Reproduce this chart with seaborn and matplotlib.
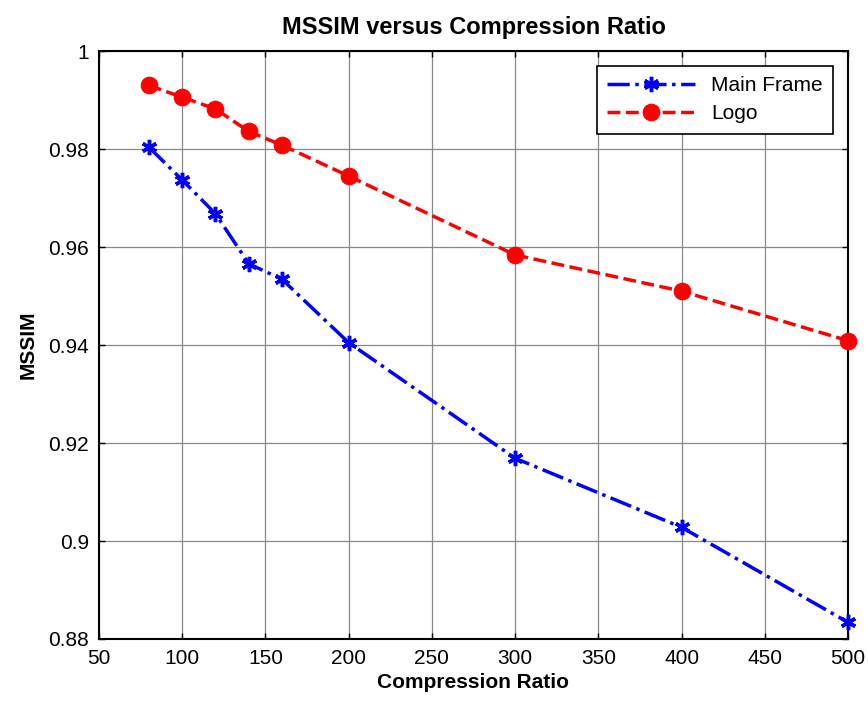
import matplotlib
matplotlib.use("Agg")
import matplotlib.pyplot as plt
import seaborn as sns

ratio = [80, 100, 120, 140, 160, 200, 300, 400, 500]
main_frame = [0.9804, 0.9737, 0.9668, 0.9566, 0.9534, 0.9405, 0.9169, 0.9028, 0.8834]
logo = [0.9930, 0.9906, 0.9882, 0.9836, 0.9808, 0.9745, 0.9584, 0.9510, 0.9409]

sns.set_style("white")
plt.rcParams["font.family"] = ["Liberation Sans", "DejaVu Sans"]
plt.rcParams["text.color"] = "black"
plt.rcParams["axes.labelcolor"] = "black"
plt.rcParams["xtick.color"] = "black"
plt.rcParams["ytick.color"] = "black"

fig = plt.figure(figsize=(8.68, 7.1), dpi=100)
ax = fig.add_axes([0.114, 0.1, 0.863, 0.828])

sns.lineplot(x=ratio, y=main_frame, ax=ax, color="blue", linestyle="-.", linewidth=2.5,
             marker=(6, 2, 0), markersize=11, markeredgewidth=2.5, markeredgecolor="blue",
             label="Main Frame", clip_on=False, zorder=5)
sns.lineplot(x=ratio, y=logo, ax=ax, color="red", linestyle="--", linewidth=2.5,
             marker="o", markersize=12, markeredgecolor="red", label="Logo",
             clip_on=False, zorder=5)

ax.set_xlim(50, 500)
ax.set_ylim(0.88, 1.0)
ax.set_xticks(range(50, 501, 50))
ax.set_yticks([0.88, 0.9, 0.92, 0.94, 0.96, 0.98, 1.0])
ax.set_yticklabels(["0.88", "0.9", "0.92", "0.94", "0.96", "0.98", "1"])
ax.grid(True, color="#888888", linewidth=0.9)
ax.tick_params(direction="in", length=4, width=1, labelsize=15, color="black",
               labelcolor="black", top=True, right=True, bottom=True, left=True, pad=7)
for s in ax.spines.values():
    s.set_color("black")
    s.set_linewidth(1.5)

ax.set_title("MSSIM versus Compression Ratio", fontsize=17, fontweight="bold", pad=12,
             color="black")
ax.set_xlabel("Compression Ratio", fontsize=15, fontweight="bold", labelpad=4, color="black")
ax.set_ylabel("MSSIM", fontsize=15, fontweight="bold", labelpad=8, color="black")

leg = ax.legend(loc="upper right", fontsize=15, frameon=True, fancybox=False,
                edgecolor="black", framealpha=1, borderaxespad=0.7, handlelength=4.2,
                borderpad=0.5, labelspacing=0.45)
leg.get_frame().set_linewidth(1.2)
for t in leg.get_texts():
    t.set_color("black")

fig.savefig("out.png", dpi=100)
